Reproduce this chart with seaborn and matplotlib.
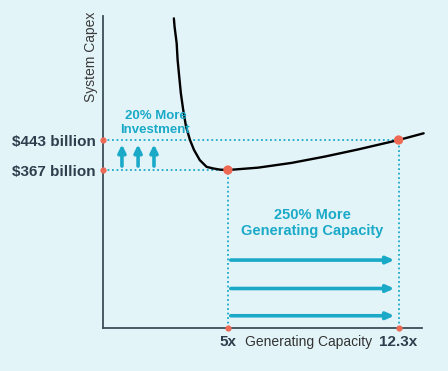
import numpy as np
import pandas as pd
import matplotlib
matplotlib.use('Agg')
import matplotlib.pyplot as plt
import seaborn as sns

# curve (capacity multiple, capex in $ billion)
cap = [2.69, 2.72, 2.81, 2.85, 2.92, 2.99, 3.09, 3.21, 3.38, 3.55, 3.80, 4.09,
       4.37, 4.66, 5.0, 6.29, 7.72, 9.14, 10.56, 12.3, 13.37]
capex = [751, 730, 688, 646, 603, 561, 519, 477, 443, 418, 392, 375,
         371, 368, 367, 373, 385, 401, 419, 443, 460]

# highlighted points
pt_cap = [5.0, 12.3]
pt_capex = [367, 443]
pt_cap_labels = ['5x', '12.3x']
pt_capex_labels = ['$367 billion', '$443 billion']

# arrow positions
up_x = [0.47, 1.16, 1.84]
right_y = [139, 67, -2]

bg = '#e3f4f9'
teal = '#1aaac8'
red = '#ee6a55'
dark = '#2f3e4c'

sns.set_style('white', {'axes.facecolor': bg, 'figure.facecolor': bg})
plt.rcParams['font.family'] = ['Liberation Sans', 'DejaVu Sans']

fig = plt.figure(figsize=(4.48, 3.71), dpi=100)
ax = fig.add_axes([103 / 448, 43 / 371, 319 / 448, 312 / 371])

xmin, xmax = -0.34, 13.3
ymin, ymax = -33, 757
ax.set_xlim(xmin, xmax)
ax.set_ylim(ymin, ymax)

# dotted guide lines
ax.plot([xmin, pt_cap[1]], [pt_capex[1]] * 2, ls=(0, (1, 1.5)), color=teal, lw=1.3, zorder=2)
ax.plot([xmin, pt_cap[0]], [pt_capex[0]] * 2, ls=(0, (1, 1.5)), color=teal, lw=1.3, zorder=2)
for xv, yv in zip(pt_cap, pt_capex):
    ax.plot([xv, xv], [ymin, yv], ls=(0, (1, 1.5)), color=teal, lw=1.3, zorder=2)

# cost curve
df = pd.DataFrame({'cap': cap, 'capex': capex})
sns.lineplot(data=df, x='cap', y='capex', color='black', lw=1.7, ax=ax, sort=False, zorder=3)
ax.lines[-1].set_clip_on(False)
ax.lines[-1].set_solid_joinstyle('round')

# main points
sns.scatterplot(x=pt_cap, y=pt_capex, color=red, s=45, edgecolor='none', ax=ax, zorder=4)

# small dots on the axes
ax.scatter([xmin] * 2, pt_capex, color=red, s=12, zorder=5, clip_on=False)
ax.scatter(pt_cap, [ymin] * 2, color=red, s=12, zorder=5, clip_on=False)

# arrows
for xv in up_x:
    ax.annotate('', xy=(xv, 432), xytext=(xv, 377),
                arrowprops=dict(arrowstyle='-|>,head_width=0.22,head_length=0.45',
                                color=teal, lw=2.6, shrinkA=0, shrinkB=0))
for yv in right_y:
    ax.annotate('', xy=(12.12, yv), xytext=(5.12, yv),
                arrowprops=dict(arrowstyle='-|>,head_width=0.2,head_length=0.45',
                                color=teal, lw=2.6, shrinkA=0, shrinkB=0))

# annotations
ax.text(1.9, 486, '20% More\nInvestment', color=teal, fontsize=9.5, fontweight='bold',
        ha='center', va='center', linespacing=1.25)
ax.text(8.6, 233, '250% More\nGenerating Capacity', color=teal, fontsize=10.5,
        fontweight='bold', ha='center', va='center', linespacing=1.15)

# axes
ax.set_xticks(pt_cap)
ax.set_xticklabels(pt_cap_labels, fontsize=11, fontweight='bold', color=dark)
ax.set_yticks(pt_capex)
ax.set_yticklabels(pt_capex_labels, fontsize=11, fontweight='bold', color=dark)
ax.tick_params(length=0, pad=5)
ax.set_xlabel('')
ax.set_ylabel('System Capex', fontsize=10, color='#3a3a3a')
ax.yaxis.set_label_coords(-0.015, 0.87)
ax.annotate('Generating Capacity', xy=(8.46, 0), xycoords=('data', 'axes fraction'),
            xytext=(0, -10), textcoords='offset points', ha='center', va='center',
            fontsize=10, color='#333333')

sns.despine(ax=ax)
for s in ['left', 'bottom']:
    ax.spines[s].set_color('#3d4d58')
    ax.spines[s].set_linewidth(1.3)

fig.savefig('out.png', dpi=100, facecolor=bg)
